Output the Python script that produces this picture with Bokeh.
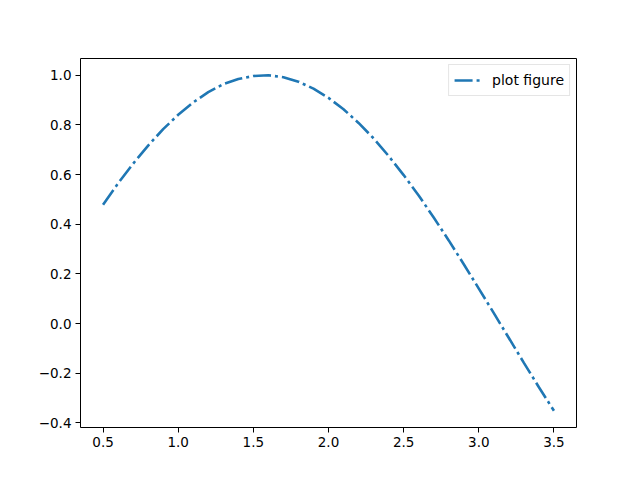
from bokeh.plotting import figure
from bokeh.models import Range1d, FixedTicker, Legend, LegendItem
from bokeh.embed import file_html
from bokeh.resources import INLINE

x_vals = [0.5, 0.6, 0.7, 0.8, 0.9, 1.0, 1.1, 1.2, 1.3, 1.4, 1.5, 1.6, 1.7, 1.8, 1.9, 2.0,
          2.1, 2.2, 2.3, 2.4, 2.5, 2.6, 2.7, 2.8, 2.9, 3.0, 3.1, 3.2, 3.3, 3.4, 3.5]
y_vals = [0.479, 0.565, 0.644, 0.717, 0.783, 0.841, 0.891, 0.932, 0.964, 0.985, 0.997, 1.000,
          0.992, 0.974, 0.946, 0.909, 0.863, 0.808, 0.746, 0.675, 0.598, 0.516, 0.427, 0.335,
          0.239, 0.141, 0.042, -0.058, -0.158, -0.256, -0.351]
series_label = "plot figure"
x_ticks = [0.5, 1.0, 1.5, 2.0, 2.5, 3.0, 3.5]
y_ticks = [-0.4, -0.2, 0.0, 0.2, 0.4, 0.6, 0.8, 1.0]

p = figure(width=640, height=480, output_backend="svg", toolbar_location=None,
           x_range=Range1d(0.35, 3.65), y_range=Range1d(-0.4183, 1.0675),
           min_border_left=80, min_border_right=64, min_border_top=58, min_border_bottom=53)
p.background_fill_color = "white"
p.border_fill_color = "white"
p.outline_line_color = "black"
p.outline_line_width = 1
p.xgrid.visible = False
p.ygrid.visible = False

r = p.line(x_vals, y_vals, line_color="#1f77b4", line_width=2.6, line_dash="18 4 3 4")

for ax, ticks in ((p.xaxis[0], x_ticks), (p.yaxis[0], y_ticks)):
    ax.ticker = FixedTicker(ticks=ticks)
    ax.major_label_overrides = {t: (f"{t:.1f}".replace("-", "\u2212")) for t in ticks}
    ax.major_tick_in = 0
    ax.major_tick_out = 5
    ax.minor_tick_line_color = None
    ax.axis_line_color = None
    ax.major_label_text_font = "DejaVu Sans"
    ax.major_label_text_font_size = "13.5px"
    ax.major_label_text_color = "black"
    ax.major_tick_line_color = "black"
p.xaxis[0].major_label_standoff = 4
p.yaxis[0].major_label_standoff = 4

legend = Legend(items=[LegendItem(label=series_label, renderers=[r])], location="top_right")
legend.label_text_font = "DejaVu Sans"
legend.label_text_font_size = "14px"
legend.label_text_color = "black"
legend.border_line_color = "#cccccc"
legend.border_line_width = 1
legend.margin = 6
legend.padding = 5
legend.spacing = 0
legend.glyph_width = 28
legend.label_standoff = 10
legend.background_fill_alpha = 0.8
p.add_layout(legend)

open("out.html", "w").write(file_html(p, INLINE))
